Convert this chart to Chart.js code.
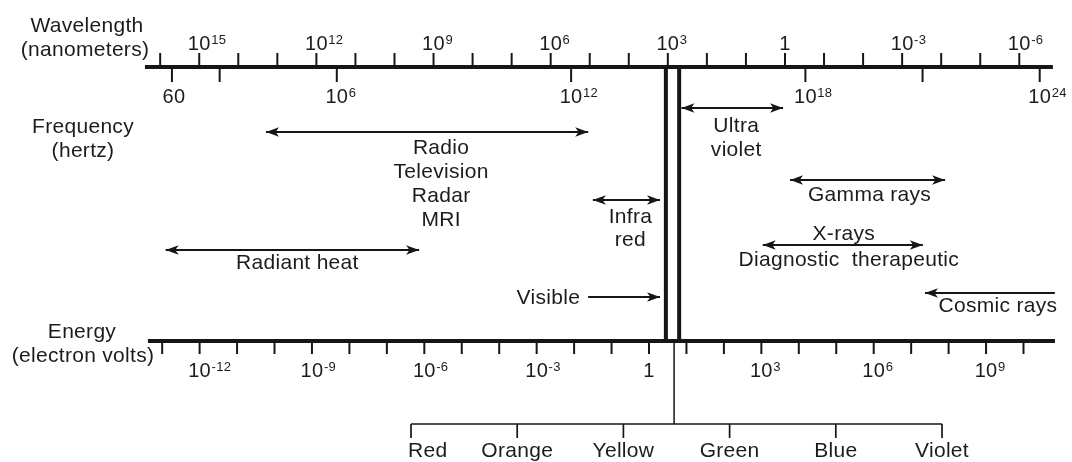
<!DOCTYPE html>
<html>
<head>
<meta charset="utf-8">
<script src="https://cdn.jsdelivr.net/npm/chart.js@4.4.1/dist/chart.umd.min.js"></script>
<style>
  html, body { margin: 0; padding: 0; background: #ffffff; }
  #wrap { width: 1072px; height: 462px; position: relative; }
</style>
</head>
<body>
<div id="wrap"><canvas id="spectrum"></canvas></div>
<script>
// ---- Scale ticks -------------------------------------------------------
// Wavelength axis: powers of ten, in nanometres (exponents)
const wavelengthTickExp = [16, 15, 14, 13, 12, 11, 10, 9, 8, 7, 6, 5, 4, 3, 2, 1, 0, -1, -2, -3, -4, -5, -6];
const wavelengthLabelExp = [15, 12, 9, 6, 3, 0, -3, -6];
// Frequency axis, in hertz
const frequencyTicksHz = [60, 1e3, 1e6, 1e12, 1e18, 1e21, 1e24];
const frequencyLabelsHz = [60, 1e6, 1e12, 1e18, 1e24];
// Energy axis: powers of ten, in electron volts (exponents)
const energyTickExp = [-13, -12, -11, -10, -9, -8, -7, -6, -5, -4, -3, -2, -1, 0, 1, 2, 3, 4, 5, 6, 7, 8, 9, 10];
const energyLabelExp = [-12, -9, -6, -3, 0, 3, 6, 9];

// ---- Bands (log10 of wavelength in nm, long end -> short end) ----------
const bandNames = ['Radio', 'Ultra violet', 'Infra red', 'Gamma rays', 'X-rays', 'Radiant heat'];
const bandLongExp = [13.29, 2.65, 4.92, -0.13, 0.57, 15.86];
const bandShortExp = [5.04, 0.05, 3.20, -4.10, -3.53, 9.37];

// Visible light band edges and the spectrum tap point (log10 nm)
const visibleBandExp = [3.05, 2.71];
const visibleTapExp = 2.84;
// "Visible" pointer and the open-ended cosmic ray arrow (tail -> head)
const visiblePointerExp = [5.04, 3.20];
const cosmicRayExp = [-6.91, -3.585];

// Colours of the visible spectrum
const spectrumColours = ['Red', 'Orange', 'Yellow', 'Green', 'Blue', 'Violet'];

// ---- Layout -------------------------------------------------------------
const INK = '#161616';
const TEXT = '#1c1c1c';
const FONT = '"Liberation Sans", Arial, Helvetica, sans-serif';
const topAxisY = 67, energyAxisY = 341, bracketY = 424;
const topAxisSpanExp = [16.39, -6.86];     // wavelength axis line extent
const energyAxisSpanExp = [-13.38, 10.84]; // energy axis line extent

const bandLayout = {
  'Radio':        { y: 132, dx: 14, lines: [['Radio', 154], ['Television', 178], ['Radar', 202], ['MRI', 226]] },
  'Ultra violet': { y: 108, dx: 4,  lines: [['Ultra', 132], ['violet', 156]] },
  'Infra red':    { y: 200, dx: 4,  lines: [['Infra', 223], ['red', 246]] },
  'Gamma rays':   { y: 180, dx: 2,  lines: [['Gamma rays', 201]] },
  'X-rays':       { y: 245, dx: 1,  lines: [['X-rays', 240]], sub: ['Diagnostic  therapeutic', 266, 6] },
  'Radiant heat': { y: 250, dx: 5,  lines: [['Radiant heat', 269]] }
};

// ---- Datasets -------------------------------------------------------------
const datasets = [];
function seg(xAxisID, x0, y0, x1, y1, width, extra) {
  datasets.push(Object.assign({
    type: 'scatter', showLine: true, xAxisID, yAxisID: 'y',
    data: [{ x: x0, y: y0 }, { x: x1, y: y1 }],
    borderColor: INK, backgroundColor: INK, borderWidth: width,
    pointRadius: 0, pointHoverRadius: 0, tension: 0, fill: false
  }, extra || {}));
}

// axis lines
seg('xWave', topAxisSpanExp[0], topAxisY, topAxisSpanExp[1], topAxisY, 3.8);
seg('xEnergy', energyAxisSpanExp[0], energyAxisY, energyAxisSpanExp[1], energyAxisY, 3.8);
// visible band double line
visibleBandExp.forEach(v => seg('xWave', v, topAxisY, v, energyAxisY, 4));
// spectrum tap and bracket
seg('xWave', visibleTapExp, energyAxisY + 2, visibleTapExp, bracketY, 1.5);
seg('xColour', 0, bracketY, spectrumColours.length - 1, bracketY, 1.6);
// band arrows
bandNames.forEach((name, i) => {
  const L = bandLayout[name];
  seg('xWave', bandLongExp[i], L.y, bandShortExp[i], L.y, 1.9, { arrow: 'both', label: name });
});
seg('xWave', visiblePointerExp[0], 297, visiblePointerExp[1], 297, 1.9, { arrow: 'end', label: 'Visible' });
seg('xWave', cosmicRayExp[0], 293, cosmicRayExp[1], 293, 1.9, { arrow: 'end', label: 'Cosmic rays' });

// ---- Drawing helpers ----------------------------------------------------
function text(ctx, s, x, y, align, size) {
  ctx.font = (size || 21) + 'px ' + FONT;
  ctx.textAlign = align || 'center';
  ctx.textBaseline = 'alphabetic';
  ctx.fillText(s, x, y);
}
function powerLabel(ctx, exp, x, y) {
  if (exp === 0) { text(ctx, '1', x, y, 'center', 20); return; }
  ctx.font = '20px ' + FONT;
  const w = ctx.measureText('10').width;
  text(ctx, '10', x, y, 'center', 20);
  text(ctx, String(exp), x + w / 2 + 0.5, y - 6, 'left', 13);
}
function arrowHead(ctx, x, y, dir) {
  const len = 13, half = 4.8;
  ctx.beginPath();
  ctx.moveTo(x, y);
  ctx.lineTo(x - dir * len, y - half);
  ctx.lineTo(x - dir * len * 0.74, y);
  ctx.lineTo(x - dir * len, y + half);
  ctx.closePath();
  ctx.fill();
}
function tick(ctx, x, y0, y1, w) {
  ctx.lineWidth = w || 2;
  ctx.beginPath(); ctx.moveTo(x, y0); ctx.lineTo(x, y1); ctx.stroke();
}

const decorations = {
  id: 'decorations',
  afterDatasetsDraw(chart) {
    const ctx = chart.ctx;
    const sw = chart.scales.xWave, sf = chart.scales.xFreq, se = chart.scales.xEnergy, sc = chart.scales.xColour;
    ctx.save();
    ctx.strokeStyle = INK; ctx.fillStyle = INK; ctx.lineCap = 'butt';
    try { ctx.letterSpacing = '0.3px'; } catch (e) {}

    // wavelength ticks (above) and frequency ticks (below)
    wavelengthTickExp.forEach(v => tick(ctx, sw.getPixelForValue(v), topAxisY, topAxisY - 14));
    frequencyTicksHz.forEach(f => tick(ctx, sf.getPixelForValue(Math.log10(f)), topAxisY, topAxisY + 15));
    // energy ticks (below)
    energyTickExp.forEach(v => tick(ctx, se.getPixelForValue(v), energyAxisY, energyAxisY + 13));
    // bracket ticks
    spectrumColours.forEach((c, i) => tick(ctx, sc.getPixelForValue(i), bracketY, bracketY + 14, 1.7));

    // arrowheads
    chart.data.datasets.forEach((ds, i) => {
      if (!ds.arrow) return;
      const pts = chart.getDatasetMeta(i).data;
      const a = pts[0], b = pts[1];
      const dir = Math.sign(b.x - a.x);
      arrowHead(ctx, b.x, b.y, dir);
      if (ds.arrow === 'both') arrowHead(ctx, a.x, a.y, -dir);
    });

    ctx.fillStyle = TEXT;
    // tick labels
    wavelengthLabelExp.forEach(v => powerLabel(ctx, v, sw.getPixelForValue(v), 50));
    frequencyLabelsHz.forEach(f => {
      const x = sf.getPixelForValue(Math.log10(f));
      if (f === 60) text(ctx, '60', x + 2, 103, 'center', 20);
      else powerLabel(ctx, Math.round(Math.log10(f)), x, 103);
    });
    energyLabelExp.forEach(v => powerLabel(ctx, v, se.getPixelForValue(v), 377));

    // axis titles
    text(ctx, 'Wavelength', 87, 32);
    text(ctx, '(nanometers)', 85, 56);
    text(ctx, 'Frequency', 83, 133);
    text(ctx, '(hertz)', 83, 157);
    text(ctx, 'Energy', 82, 338);
    text(ctx, '(electron volts)', 83, 362);

    // band labels
    chart.data.datasets.forEach((ds, i) => {
      if (!ds.label) return;
      const pts = chart.getDatasetMeta(i).data;
      const mid = (pts[0].x + pts[1].x) / 2;
      const L = bandLayout[ds.label];
      if (L) {
        L.lines.forEach(([s, y]) => text(ctx, s, mid + L.dx, y));
        if (L.sub) text(ctx, L.sub[0], mid + L.sub[2], L.sub[1]);
      } else if (ds.label === 'Visible') {
        text(ctx, 'Visible', pts[0].x - 8, 304, 'right');
      } else if (ds.label === 'Cosmic rays') {
        text(ctx, 'Cosmic rays', mid + 8, 312);
      }
    });

    // colour names
    spectrumColours.forEach((c, i) => {
      const x = sc.getPixelForValue(i);
      if (i === 0) text(ctx, c, x - 3, 457, 'left');
      else text(ctx, c, x, 457, 'center');
    });
    ctx.restore();
  }
};

const hidden = { display: false, grid: { display: false } };
new Chart(document.getElementById('spectrum'), {
  type: 'scatter',
  data: { datasets },
  options: {
    responsive: true,
    maintainAspectRatio: false,
    animation: false,
    events: [],
    layout: { padding: 0 },
    plugins: { legend: { display: false }, tooltip: { enabled: false } },
    scales: {
      xWave:   Object.assign({ type: 'linear', axis: 'x', reverse: true, min: -7.350, max: 20.102 }, hidden),
      xFreq:   Object.assign({ type: 'linear', axis: 'x', min: -2.625, max: 24.827 }, hidden),
      xEnergy: Object.assign({ type: 'linear', axis: 'x', min: -17.330, max: 11.295 }, hidden),
      xColour: Object.assign({ type: 'linear', axis: 'x', min: -3.870, max: 6.224 }, hidden),
      y:       Object.assign({ type: 'linear', axis: 'y', reverse: true, min: 0, max: 462 }, hidden)
    }
  },
  plugins: [decorations]
});
</script>
</body>
</html>
